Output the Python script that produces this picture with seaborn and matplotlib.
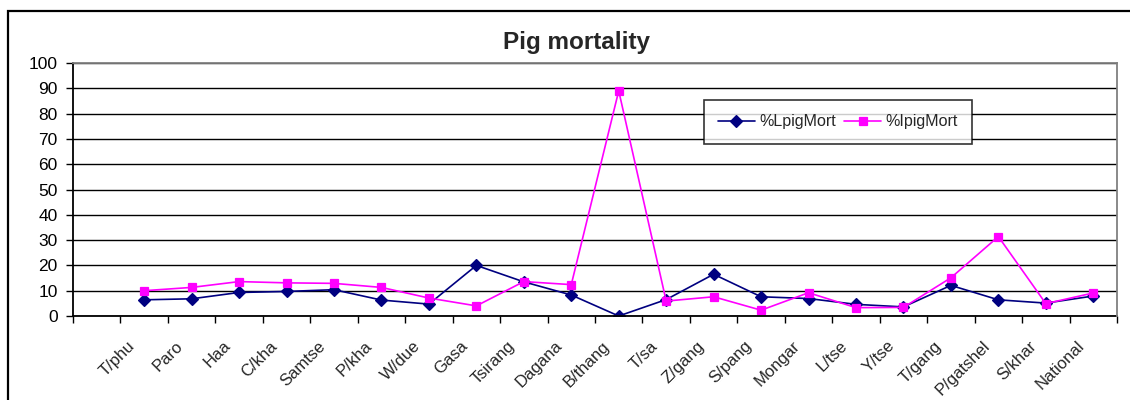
#!/usr/bin/env python3
"""Pig mortality line chart (lowland vs improved pig mortality by district)."""

import matplotlib
matplotlib.use("Agg")
import matplotlib.pyplot as plt
import matplotlib.transforms as mtransforms
from matplotlib.patches import Rectangle
from matplotlib.ticker import FixedLocator
import numpy as np
import pandas as pd
import seaborn as sns

districts = ["T/phu", "Paro", "Haa", "C/kha", "Samtse", "P/kha", "W/due", "Gasa",
             "Tsirang", "Dagana", "B/thang", "T/sa", "Z/gang", "S/pang", "Mongar",
             "L/tse", "Y/tse", "T/gang", "P/gatshel", "S/khar", "National"]
lpig_mort = [6.4, 6.8, 9.3, 9.7, 10.4, 6.3, 4.7, 20.0, 13.5, 8.3, 0.0,
             6.5, 16.5, 7.6, 6.9, 4.6, 3.6, 12.1, 6.4, 5.1, 7.9]
ipig_mort = [10.0, 11.3, 13.6, 13.1, 12.9, 11.3, 7.1, 4.0, 13.6, 12.4, 89.0,
             5.9, 7.6, 2.3, 9.2, 3.3, 3.4, 15.1, 31.4, 4.9, 9.1]
series_names = ["%LpigMort", "%IpigMort"]
y_ticks = list(range(0, 101, 10))

# Excel chart leaves one blank category before the first district
order = [""] + districts

df = pd.concat([
    pd.DataFrame({"district": districts, "series": series_names[0], "value": lpig_mort}),
    pd.DataFrame({"district": districts, "series": series_names[1], "value": ipig_mort}),
], ignore_index=True)

sns.set_style("white")
plt.rcParams["font.family"] = ["Liberation Sans", "DejaVu Sans"]

fig = plt.figure(figsize=(11.3, 4.0), dpi=100)
ax = fig.add_axes([73 / 1130, 1 - 316 / 400, (1117 - 73) / 1130, (316 - 63) / 400])

sns.pointplot(
    data=df, x="district", y="value", hue="series",
    order=order, hue_order=series_names,
    palette={"%LpigMort": "#000080", "%IpigMort": "#FF00FF"},
    markers=["D", "s"], linestyles=["-", "-"],
    errorbar=None, dodge=False, markersize=6.3, linewidth=1.2, ax=ax,
)

ax.set_xlim(-0.5, len(order) - 0.5)
ax.set_ylim(0, 100)
ax.set_yticks(y_ticks)
ax.set_xlabel("")
ax.set_ylabel("")

# gridlines and frame
ax.set_axisbelow(True)
ax.yaxis.grid(True, color="black", linewidth=1.0)
ax.xaxis.grid(False)
for side in ["left", "bottom"]:
    ax.spines[side].set_color("black")
    ax.spines[side].set_linewidth(1.3)
for side in ["top", "right"]:
    ax.spines[side].set_color("#808080")
    ax.spines[side].set_linewidth(1.3)
    ax.spines[side].set_zorder(3)

ax.tick_params(axis="y", which="major", left=True, length=5, width=1.0,
               pad=6, labelsize=12.5, colors="black")
ax.tick_params(axis="x", which="major", bottom=True, length=0, pad=16, labelsize=12)
ax.xaxis.set_minor_locator(FixedLocator(np.arange(-0.5, len(order), 1.0)))
ax.tick_params(axis="x", which="minor", bottom=True, length=5, width=1.0, color="black")

offset = mtransforms.ScaledTranslation(-0.06, 0, fig.dpi_scale_trans)
for lab in ax.get_xticklabels():
    lab.set_rotation(45)
    lab.set_ha("right")
    lab.set_transform(lab.get_transform() + offset)

handles, labels = ax.get_legend_handles_labels()
leg = ax.legend(handles, labels, ncol=2, loc="upper left",
                bbox_to_anchor=(0.604, 0.854), borderaxespad=0, frameon=True,
                fancybox=False, edgecolor="black", fontsize=11.5, handlelength=2.3,
                columnspacing=0.5, handletextpad=0.3, borderpad=0.9, title=None)
leg.get_frame().set_linewidth(1.2)

fig.suptitle("Pig mortality", x=0.5106, y=0.893, va="center",
             fontsize=17.5, fontweight="bold")

fig.add_artist(Rectangle((8 / 1130, -1), 2, 1 + (1 - 11 / 400), fill=False,
                         edgecolor="black", linewidth=1.6,
                         transform=fig.transFigure))

fig.savefig("out.png", dpi=100)
